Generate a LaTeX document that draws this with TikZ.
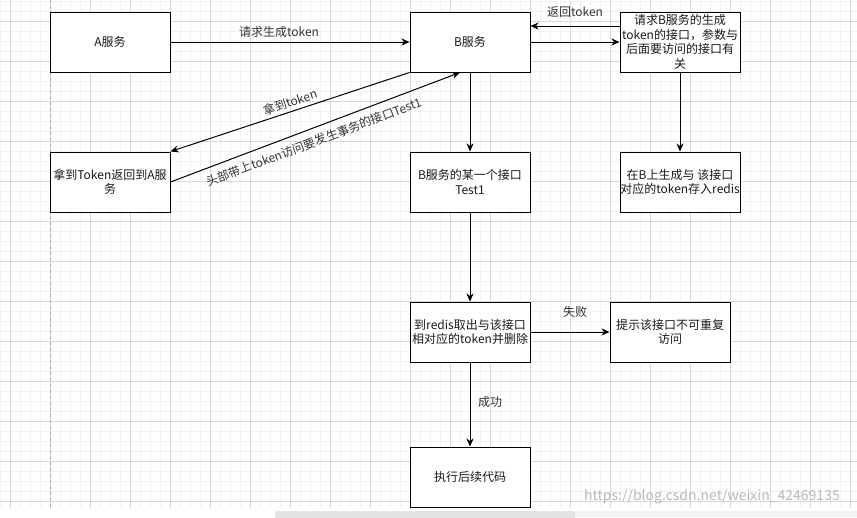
\documentclass[tikz,border=0pt]{standalone}
\usepackage{fontspec}
\setmainfont{Noto Sans CJK SC}
\usetikzlibrary{arrows.meta,calc}
\definecolor{gridminor}{HTML}{F1F1F1}
\definecolor{gridmajor}{HTML}{D8D8D8}
\definecolor{pagebreak}{HTML}{A8A8A8}
\definecolor{barlight}{HTML}{F4F4F4}
\definecolor{bardark}{HTML}{E2E2E2}
\begin{document}
\begin{tikzpicture}[x=1pt,y=-1pt,
  box/.style={draw=black, line width=1pt, minimum width=120pt, minimum height=60pt, inner sep=0pt, align=center, font=\fontsize{12}{14.4}\selectfont, text=black!90, fill=white},
  conn/.style={draw=black, line width=1pt, -{Stealth[length=8pt,width=7pt,inset=2.5pt]}},
  lbl/.style={font=\fontsize{12}{14.4}\selectfont, text=black!80, inner sep=1pt},
  wm/.style={font=\fontsize{14}{16}\selectfont, text=black!28, inner sep=0pt}]
\useasboundingbox (0,0) rectangle (857,517);
% grid
\fill[white] (0,0) rectangle (857,517);
\foreach \x in {0,10,...,850} \draw[gridminor, line width=0.8pt] (\x,0) -- (\x,508);
\foreach \y in {1,11,...,501} \draw[gridminor, line width=0.8pt] (0,\y) -- (857,\y);
\foreach \x in {10,50,...,850} \draw[gridmajor, line width=0.8pt] (\x,0) -- (\x,508);
\foreach \y in {21,61,...,501} \draw[gridmajor, line width=0.8pt] (0,\y) -- (857,\y);
\draw[pagebreak, line width=0.8pt, dash pattern=on 3pt off 3pt] (50,0) -- (50,508);
% bottom bar
\fill[white] (0,508) rectangle (857,517);
\fill[barlight] (275,511) rectangle (857,517);
\fill[bardark, rounded corners=2pt] (275,511) rectangle (575,519);
% boxes
\node[box] (A) at (110,42) {A服务};
\node[box] (B) at (470,42) {B服务};
\node[box] (R) at (680,42) {请求B服务的生成\\token的接口，参数与\\后面要访问的接口有\\关};
\node[box] (T) at (110,182) {拿到Token返回到A服\\务};
\node[box] (X) at (470,182) {B服务的某一个接口\\Test1};
\node[box] (S) at (680,182) {在B上生成与 该接口\\对应的token存入redis};
\node[box] (F) at (470,332) {到redis取出与该接口\\相对应的token并删除};
\node[box] (P) at (670,332) {提示该接口不可重复\\访问};
\node[box] (E) at (470,477) {执行后续代码};
% connectors
\draw[conn] (A) -- (B);
\draw[conn] (B) -- (R);
\draw[conn] ($(R.west)+(0,-16)$) -- ($(B.east)+(0,-16)$);
\draw[conn] (B) -- (X);
\draw[conn] (R) -- (S);
\draw[conn] (B.south west) -- (T.north east);
\draw[conn] (T.east) -- ($(B.south)+(-10,0)$);
\draw[conn] (X) -- (F);
\draw[conn] (F) -- (P);
\draw[conn] (F) -- (E);
% labels
\node[lbl] (l1) at (279,32) {请求生成token};
\node[lbl] (l2) at (575,12) {返回token};
\node[lbl, rotate=18.4] (l3) at (290,102) {拿到token};
\node[lbl, rotate=20.6] (l4) at (314,142) {头部带上token访问要发生事务的接口Test1};
\node[lbl] (l5) at (575,312) {失败};
\node[lbl] (l6) at (490,402) {成功};
% watermark
\node[wm] (wmk) at (712,497) {https://blog.csdn.net/weixin\_42469135};
\end{tikzpicture}
\end{document}
